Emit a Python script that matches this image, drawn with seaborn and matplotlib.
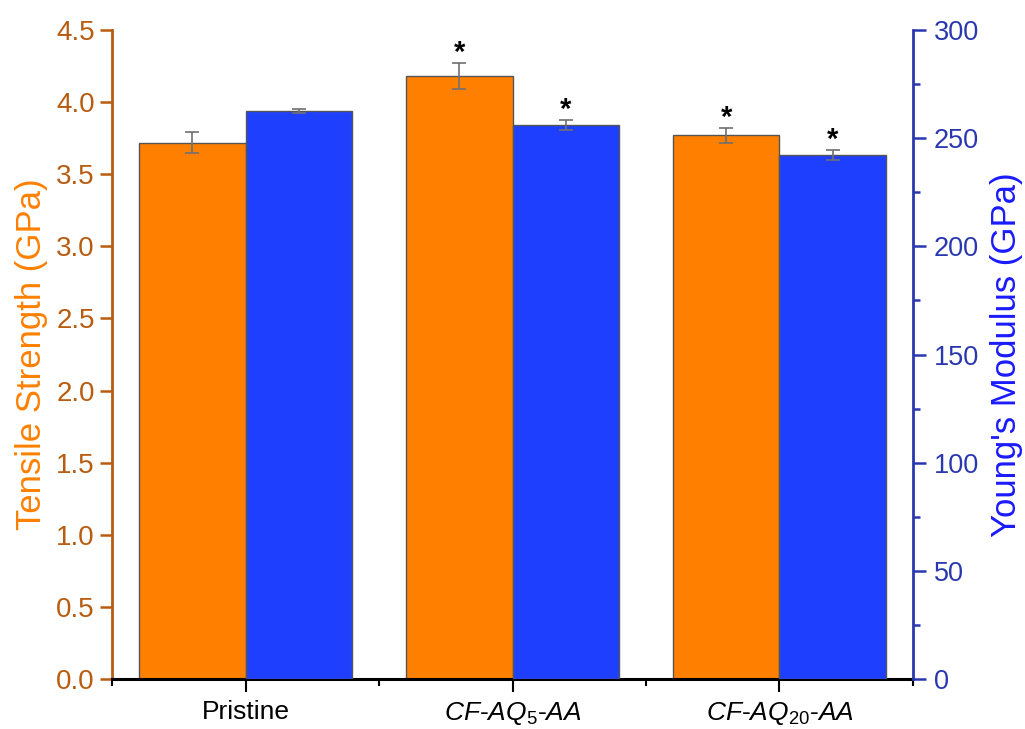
import matplotlib
matplotlib.use("Agg")
import matplotlib.pyplot as plt
import seaborn as sns
import pandas as pd
import numpy as np
from matplotlib.ticker import MultipleLocator, FormatStrFormatter

# ---- data ----
samples = ["Pristine", "CF-AQ5-AA", "CF-AQ20-AA"]
tick_labels = ["Pristine",
               r"$\mathit{CF}$-$\mathit{AQ}_{\mathit{5}}$-$\mathit{AA}$",
               r"$\mathit{CF}$-$\mathit{AQ}_{\mathit{20}}$-$\mathit{AA}$"]
tensile = [3.72, 4.18, 3.77]
tensile_err = [0.07, 0.09, 0.05]
modulus = [262.6, 256.1, 242.2]
modulus_err = [0.8, 2.5, 2.5]
tensile_sig = [False, True, True]
modulus_sig = [False, True, True]

# ---- style ----
sns.set_style("white")
plt.rcParams['font.family'] = ['Liberation Sans', 'DejaVu Sans']
plt.rcParams['mathtext.fontset'] = 'custom'
plt.rcParams['mathtext.rm'] = 'Liberation Sans'
plt.rcParams['mathtext.it'] = 'Liberation Sans:italic'
plt.rcParams['mathtext.bf'] = 'Liberation Sans:bold'

ORANGE = "#ff8000"
BLUE = "#1f3fff"
LEFT_AX = "#b85c10"
RIGHT_AX = "#2a38b0"
RIGHT_LABEL = "#1a1aff"
EDGE = "#555555"
ERR = "#707070"

fig = plt.figure(figsize=(10.25, 7.29), dpi=100)
ax1 = fig.add_axes([0.1093, 0.0686, 0.7814, 0.8902])
ax2 = ax1.twinx()

df_ts = pd.DataFrame({"sample": samples, "value": tensile, "metric": "TS"})
df_ym = pd.DataFrame({"sample": samples, "value": modulus, "metric": "YM"})
hue_order = ["TS", "YM"]
pal = {"TS": ORANGE, "YM": BLUE}

sns.barplot(data=df_ts, x="sample", y="value", hue="metric", hue_order=hue_order,
            order=samples, palette=pal, saturation=1, errorbar=None, width=0.8,
            dodge=True, edgecolor=EDGE, linewidth=1.0, legend=False, ax=ax1)
sns.barplot(data=df_ym, x="sample", y="value", hue="metric", hue_order=hue_order,
            order=samples, palette=pal, saturation=1, errorbar=None, width=0.8,
            dodge=True, edgecolor=EDGE, linewidth=1.0, legend=False, ax=ax2)

def add_err(ax, vals, errs, sig):
    bars = sorted([p for p in ax.patches if p.get_height() > 0], key=lambda p: p.get_x())
    for p, v, e, s in zip(bars, vals, errs, sig):
        xc = p.get_x() + p.get_width() / 2
        ax.errorbar(xc, v, yerr=e, fmt="none", ecolor=ERR, elinewidth=1.2,
                    capsize=5, capthick=1.2, zorder=5)
        if s:
            ax.annotate("*", xy=(xc, v + e), xytext=(0, -3), textcoords="offset points",
                        ha="center", va="bottom", fontsize=21, fontweight="bold",
                        color="black")

add_err(ax1, tensile, tensile_err, tensile_sig)
add_err(ax2, modulus, modulus_err, modulus_sig)

# ---- axes ----
ax1.set_xlim(-0.5, 2.5)
ax1.set_ylim(0, 4.5)
ax2.set_ylim(0, 300)

ax1.set_xticks(range(len(samples)))
ax1.set_xticklabels(tick_labels, fontsize=19)
ax1.set_xticks([-0.5, 0.5, 1.5, 2.5], minor=True)
ax1.set_xlabel("")

ax1.yaxis.set_major_locator(MultipleLocator(0.5))
ax1.yaxis.set_major_formatter(FormatStrFormatter("%.1f"))
ax2.yaxis.set_major_locator(MultipleLocator(50))
ax2.yaxis.set_minor_locator(MultipleLocator(25))

ax1.set_ylabel("Tensile Strength (GPa)", fontsize=25, color=ORANGE, labelpad=6)
ax2.set_ylabel("Young's Modulus (GPa)", fontsize=25, color=RIGHT_LABEL, labelpad=8)

ax1.tick_params(axis="x", which="major", direction="out", length=9, width=1.5,
                colors="black", labelsize=19, bottom=True, pad=6)
ax1.tick_params(axis="x", which="minor", direction="out", length=5, width=1.5,
                colors="black", bottom=True)
ax1.tick_params(axis="y", which="major", direction="out", length=8.5, width=1.8,
                colors=LEFT_AX, labelsize=20, left=True, pad=4)
ax2.tick_params(axis="y", which="major", direction="out", length=9, width=1.8,
                colors=RIGHT_AX, labelsize=19.5, right=True, pad=6)
ax2.tick_params(axis="y", which="minor", direction="out", length=5, width=1.8,
                colors=RIGHT_AX, right=True)

for ax in (ax1, ax2):
    ax.spines["top"].set_visible(False)
ax1.spines["left"].set_color(LEFT_AX)
ax1.spines["left"].set_linewidth(2)
ax1.spines["right"].set_visible(False)
ax2.spines["left"].set_visible(False)
ax2.spines["bottom"].set_visible(False)
ax2.spines["right"].set_color(RIGHT_AX)
ax2.spines["right"].set_linewidth(2)
ax1.spines["bottom"].set_color("black")
ax1.spines["bottom"].set_linewidth(2.2)

ax1.set_facecolor("none")
ax2.set_facecolor("none")

fig.savefig("out.png", dpi=100, facecolor="white")
